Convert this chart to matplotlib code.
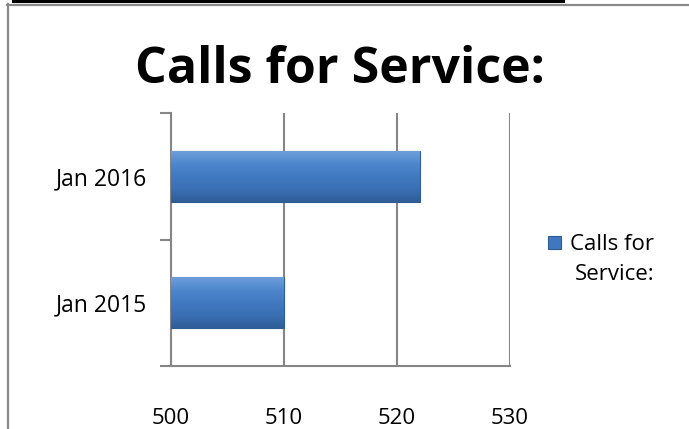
import matplotlib
matplotlib.use("Agg")
import matplotlib.pyplot as plt
import numpy as np
from matplotlib.lines import Line2D
from matplotlib.patches import Rectangle
from matplotlib.colors import LinearSegmentedColormap

categories = ["Jan 2015", "Jan 2016"]
values = [510, 522]
series_name = "Calls for Service:"
title = "Calls for Service:"
xticks = [500, 510, 520, 530]

W, H = 689, 429
fig = plt.figure(figsize=(W / 100, H / 100), dpi=100)
plt.rcParams['font.family'] = ['Open Sans', 'DejaVu Sans']

def fx(px):
    return px / W

def fy(py):
    return 1 - py / H

# frame lines
fig.add_artist(Line2D([fx(13), fx(563)], [fy(1), fy(1)], color="black", lw=2.2, transform=fig.transFigure))
fig.add_artist(Line2D([fx(7), fx(689)], [fy(4.5), fy(4.5)], color="#8a8a8a", lw=1.6, transform=fig.transFigure))
fig.add_artist(Line2D([fx(7.5), fx(7.5)], [fy(4), fy(429)], color="#8a8a8a", lw=1.6, transform=fig.transFigure))

left, right, top, bottom = 171, 510, 113, 366
ax = fig.add_axes([fx(left), fy(bottom), fx(right - left), (bottom - top) / H])

y = np.arange(len(categories))
bar_h = 0.4
bars = ax.barh(y, [v - 500 for v in values], left=500, height=bar_h,
               color="#4177BE", edgecolor="#2E5D95", linewidth=0.8, zorder=3)

grad = np.linspace(0, 1, 64).reshape(-1, 1)
cmap = LinearSegmentedColormap.from_list("bev", ["#2F5E98", "#3A70B4", "#4179C0", "#4D86CC", "#6E9FDB"])
for b, v, yy in zip(bars, values, y):
    im = ax.imshow(grad, cmap=cmap, aspect="auto", origin="lower",
                   extent=[500, v, yy - bar_h / 2, yy + bar_h / 2], zorder=3.5,
                   interpolation="bicubic")
    im.set_clip_path(b)

ax.set_xlim(500, 530)
ax.set_ylim(-0.5, 1.5)
ax.set_xticks(xticks)
ax.set_xticklabels([str(t) for t in xticks], fontsize=16)
ax.set_yticks(y)
ax.set_yticklabels(categories, fontsize=16.5)
ax.set_yticks([-0.5, 0.5, 1.5], minor=True)
ax.tick_params(axis="y", which="major", length=0, pad=17)
ax.tick_params(axis="y", which="minor", length=8, width=1.5, color="#868686", direction="out")
ax.tick_params(axis="x", length=0, pad=30)
ax.grid(axis="x", color="#868686", lw=1.5, zorder=1)
for s in ["top", "right"]:
    ax.spines[s].set_visible(False)
for s in ["left", "bottom"]:
    ax.spines[s].set_color("#868686")
    ax.spines[s].set_linewidth(1.5)
ax.set_facecolor("none")

fig.text(fx(340), fy(70), title, fontsize=36, fontweight="bold", ha="center", va="center")

# legend (manual)
fig.add_artist(Rectangle((fx(548), fy(249)), fx(13), 13 / H, transform=fig.transFigure,
                         facecolor="#4177BE", edgecolor="#2E5D95", lw=0.8))
fig.text(fx(654), fy(234), "Calls for\n" + series_name.split(" ", 2)[2], fontsize=16,
         ha="right", va="top", multialignment="right", linespacing=1.55)

fig.savefig("out.png", dpi=100)
